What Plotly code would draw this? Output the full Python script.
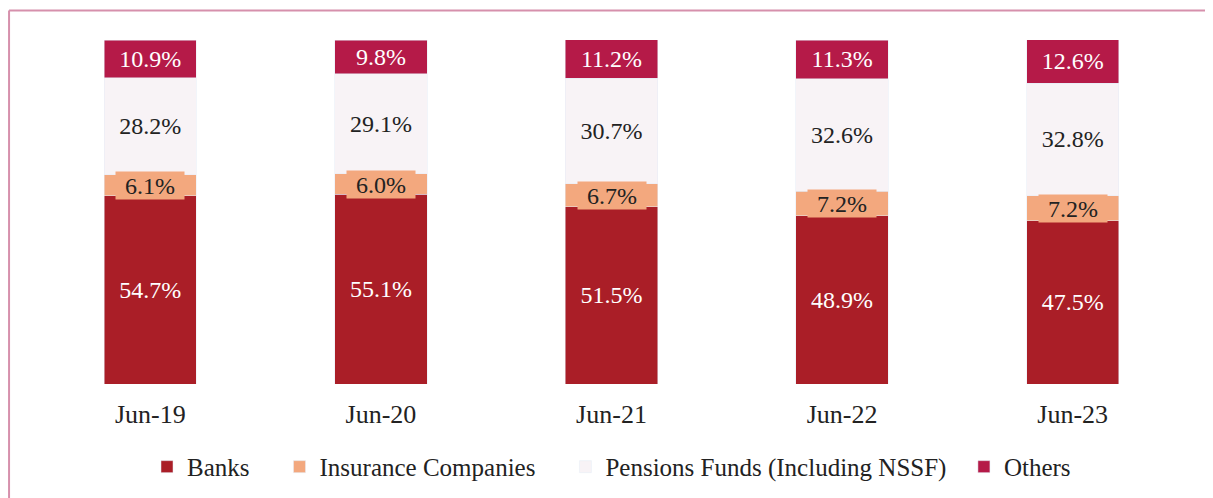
import plotly.graph_objects as go

categories = ["Jun-19", "Jun-20", "Jun-21", "Jun-22", "Jun-23"]
banks = [54.7, 55.1, 51.5, 48.9, 47.5]
insurance = [6.1, 6.0, 6.7, 7.2, 7.2]
pensions = [28.2, 29.1, 30.7, 32.6, 32.8]
others = [10.9, 9.8, 11.2, 11.3, 12.6]
series_names = ["Banks", "Insurance Companies", "Pensions Funds (Including NSSF)", "Others"]

C_BANKS = "#aa1e27"
C_INS = "#f3a87e"
C_PEN = "#f8f3f6"
C_OTH = "#b51a48"
FONT = "Liberation Serif, Times New Roman, serif"
PAD = "\u00a0" * 4

def fmt(v):
    return [f"{x:.1f}%" for x in v]

def tf(color):
    return dict(color=color, size=24, family=FONT)

fig = go.Figure()
fig.add_trace(go.Bar(name=series_names[0] + PAD, x=categories, y=banks, marker_color=C_BANKS,
                     text=fmt(banks), textposition="inside", insidetextanchor="middle",
                     textfont=tf("white"), insidetextfont=tf("white"),
                     constraintext="none"))
fig.add_trace(go.Bar(name=series_names[1] + PAD, x=categories, y=insurance, marker_color=C_INS))
fig.add_trace(go.Bar(name=series_names[2] + "\u00a0" * 2, x=categories, y=pensions, marker_color=C_PEN,
                     text=fmt(pensions), textposition="inside", insidetextanchor="middle",
                     textfont=tf("#222222"), insidetextfont=tf("#222222"),
                     constraintext="none"))
fig.add_trace(go.Bar(name=series_names[3], x=categories, y=others, marker_color=C_OTH,
                     text=fmt(others), textposition="inside", insidetextanchor="middle",
                     textfont=tf("white"), insidetextfont=tf("white"),
                     constraintext="none"))

annotations = []
for c, b, i in zip(categories, banks, insurance):
    annotations.append(dict(x=c, y=b + i / 2, xref="x", yref="y", text=f"{i:.1f}%",
                            showarrow=False, bgcolor=C_INS, borderpad=0,
                            width=68, height=27, align="center", valign="middle",
                            font=tf("#222222")))

fig.update_layout(
    barmode="stack",
    bargap=0.6,
    width=1213, height=498,
    margin=dict(l=27, r=33, t=32, b=122),
    paper_bgcolor="white", plot_bgcolor="white",
    font=dict(family=FONT, size=24, color="#222222"),
    xaxis=dict(showline=False, showgrid=False, ticks="outside", ticklen=7,
               tickcolor="rgba(0,0,0,0)", tickfont=dict(size=26)),
    yaxis=dict(visible=False, range=[0, 100]),
    legend=dict(orientation="h", x=0.5, xanchor="center", y=-0.241, yanchor="middle",
                font=dict(size=25, family=FONT), itemwidth=30, traceorder="normal"),
    annotations=annotations,
    shapes=[
        dict(type="line", xref="paper", yref="paper", x0=-0.0225, x1=1.03, y0=1.0858, y1=1.0858,
             line=dict(color="#d690ac", width=2)),
        dict(type="line", xref="paper", yref="paper", x0=-0.0225, x1=-0.0225, y0=-0.36, y1=1.0858,
             line=dict(color="#d690ac", width=2)),
    ],
)

fig.write_html("out.html")
